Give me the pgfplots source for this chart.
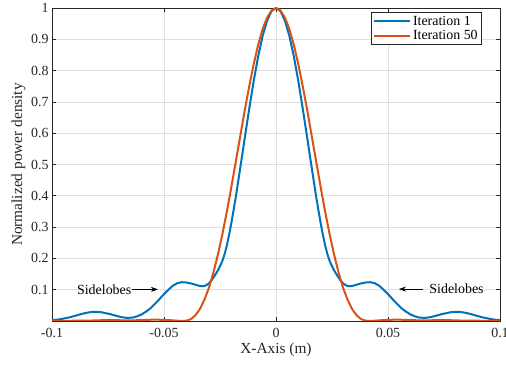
\documentclass[border=0pt]{standalone}
\usepackage{fontspec}
\setmainfont{Liberation Serif}
\usepackage{pgfplots}
\pgfplotsset{compat=1.18}
\usetikzlibrary{arrows.meta}
\definecolor{mblue}{rgb}{0,0.447,0.741}
\definecolor{morange}{rgb}{0.850,0.325,0.098}
\definecolor{axgray}{rgb}{0.15,0.15,0.15}
\definecolor{gridgray}{rgb}{0.875,0.875,0.875}

\pgfplotstableread{
x y
-0.100 0.003
-0.098 0.004
-0.096 0.006
-0.094 0.009
-0.092 0.012
-0.090 0.016
-0.088 0.020
-0.086 0.024
-0.084 0.027
-0.082 0.029
-0.080 0.029
-0.078 0.028
-0.076 0.025
-0.074 0.022
-0.072 0.018
-0.070 0.014
-0.068 0.011
-0.066 0.010
-0.064 0.011
-0.062 0.015
-0.060 0.021
-0.058 0.030
-0.056 0.041
-0.054 0.055
-0.052 0.070
-0.050 0.086
-0.048 0.100
-0.046 0.113
-0.044 0.121
-0.042 0.124
-0.040 0.123
-0.038 0.120
-0.036 0.116
-0.034 0.112
-0.033 0.111
-0.032 0.112
-0.031 0.115
-0.030 0.120
-0.029 0.128
-0.028 0.138
-0.027 0.149
-0.026 0.161
-0.025 0.175
-0.024 0.191
-0.023 0.212
-0.022 0.240
-0.021 0.273
-0.020 0.310
-0.018 0.394
-0.016 0.487
-0.014 0.582
-0.012 0.676
-0.010 0.765
-0.008 0.844
-0.006 0.910
-0.004 0.959
-0.002 0.990
0.000 1.000
0.002 0.990
0.004 0.959
0.006 0.910
0.008 0.844
0.010 0.765
0.012 0.676
0.014 0.582
0.016 0.487
0.018 0.394
0.020 0.310
0.021 0.273
0.022 0.240
0.023 0.212
0.024 0.191
0.025 0.175
0.026 0.161
0.027 0.149
0.028 0.138
0.029 0.128
0.030 0.120
0.031 0.115
0.032 0.112
0.033 0.111
0.034 0.112
0.036 0.116
0.038 0.120
0.040 0.123
0.042 0.124
0.044 0.121
0.046 0.113
0.048 0.100
0.050 0.086
0.052 0.070
0.054 0.055
0.056 0.041
0.058 0.030
0.060 0.021
0.062 0.015
0.064 0.011
0.066 0.010
0.068 0.011
0.070 0.014
0.072 0.018
0.074 0.022
0.076 0.025
0.078 0.028
0.080 0.029
0.082 0.029
0.084 0.027
0.086 0.024
0.088 0.020
0.090 0.016
0.092 0.012
0.094 0.009
0.096 0.006
0.098 0.004
0.100 0.003
}\iterone

\pgfplotstableread{
x y
-0.100 0.000
-0.095 0.000
-0.090 0.001
-0.085 0.001
-0.080 0.002
-0.076 0.003
-0.072 0.003
-0.068 0.002
-0.064 0.002
-0.060 0.003
-0.056 0.004
-0.052 0.004
-0.048 0.003
-0.046 0.002
-0.044 0.001
-0.042 0.000
-0.040 0.001
-0.038 0.006
-0.036 0.018
-0.034 0.038
-0.032 0.067
-0.030 0.105
-0.028 0.153
-0.026 0.210
-0.024 0.275
-0.022 0.347
-0.020 0.425
-0.018 0.507
-0.016 0.589
-0.014 0.671
-0.012 0.748
-0.010 0.819
-0.008 0.881
-0.006 0.932
-0.004 0.969
-0.002 0.992
0.000 1.000
0.002 0.992
0.004 0.969
0.006 0.932
0.008 0.881
0.010 0.819
0.012 0.748
0.014 0.671
0.016 0.589
0.018 0.507
0.020 0.425
0.022 0.347
0.024 0.275
0.026 0.210
0.028 0.153
0.030 0.105
0.032 0.067
0.034 0.038
0.036 0.018
0.038 0.006
0.040 0.001
0.042 0.000
0.044 0.001
0.046 0.002
0.048 0.003
0.052 0.004
0.056 0.004
0.060 0.003
0.064 0.002
0.068 0.002
0.072 0.003
0.076 0.003
0.080 0.002
0.085 0.001
0.090 0.001
0.095 0.000
0.100 0.000
}\iterfifty

\begin{document}
\begin{tikzpicture}
\begin{axis}[name=ax, scale only axis, width=448bp, height=313bp,
  xmin=-0.1, xmax=0.1, ymin=0, ymax=1,
  xtick={-0.1,-0.05,0,0.05,0.1},
  xticklabels={-0.1,-0.05,0,0.05,0.1},
  ytick={0.1,0.2,0.3,0.4,0.5,0.6,0.7,0.8,0.9,1},
  yticklabels={0.1,0.2,0.3,0.4,0.5,0.6,0.7,0.8,0.9,1},
  tick label style={font=\fontsize{14}{16}\selectfont, text=axgray},
  xticklabel style={yshift=-4bp},
  grid=major, major grid style={gridgray, line width=0.6bp},
  axis line style={axgray, line width=0.6bp},
  tick style={axgray, line width=0.6bp}, major tick length=4.5bp,
  xlabel={X-Axis (m)}, ylabel={Normalized power density},
  label style={font=\fontsize{15.4}{17}\selectfont, text=axgray},
  xlabel style={at={(axis description cs:0.5,0)}, anchor=north, yshift=-18bp},
  ylabel style={at={(axis description cs:-0.0513,0.5)}, anchor=south},
  legend style={at={(1,1)}, anchor=north east, xshift=-18bp, yshift=-4bp,
    draw=axgray, line width=0.6bp, font=\fontsize{14}{16}\selectfont,
    inner xsep=2bp, inner ysep=1.5bp, row sep=0bp, cells={anchor=west}},
  legend image code/.code={\draw[#1] (0bp,0bp) -- (36bp,0bp);},
]
\addplot[mblue, line width=2bp] table[x=x,y=y] {\iterone};
\addlegendentry{Iteration 1}
\addplot[morange, line width=2bp] table[x=x,y=y] {\iterfifty};
\addlegendentry{Iteration 50}

\draw[-{Stealth[length=7bp,width=5bp]}, black, line width=0.7bp] (axis cs:-0.0644,0.101) -- (axis cs:-0.0527,0.101);
\node[anchor=east, inner sep=0pt, font=\fontsize{14}{16}\selectfont] at (axis cs:-0.0645,0.101) {Sidelobes};
\draw[-{Stealth[length=7bp,width=5bp]}, black, line width=0.7bp] (axis cs:0.0658,0.102) -- (axis cs:0.0549,0.102);
\node[anchor=west, inner sep=0pt, font=\fontsize{14}{16}\selectfont] at (axis cs:0.0684,0.102) {Sidelobes};
\end{axis}
\pgfresetboundingbox
\path ([xshift=-52bp,yshift=-45bp]ax.south west) rectangle ([xshift=6bp,yshift=8bp]ax.north east);
\end{tikzpicture}
\end{document}
